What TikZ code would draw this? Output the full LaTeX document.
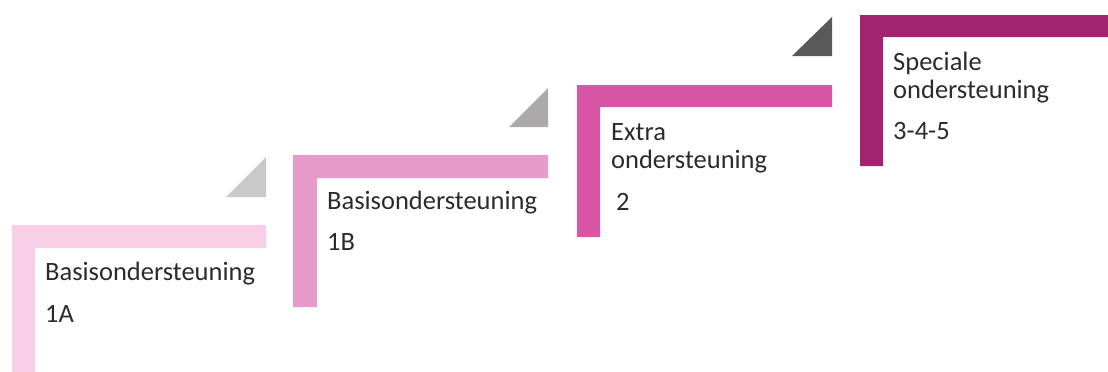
\documentclass[tikz,border=0pt]{standalone}
\usepackage{fontspec}
\setmainfont{Carlito}
\definecolor{stepA}{HTML}{F9CFE7}
\definecolor{stepB}{HTML}{E69BCB}
\definecolor{stepC}{HTML}{D955A5}
\definecolor{stepD}{HTML}{A2246F}
\definecolor{triA}{HTML}{C9C9C9}
\definecolor{triB}{HTML}{ABA9AA}
\definecolor{triC}{HTML}{595959}
\definecolor{txt}{HTML}{2B2B2B}
\tikzset{
  lbl/.style={anchor=base west, inner sep=0pt, text=txt, font=\fontsize{26.5}{30}\selectfont},
}
\begin{document}
\begin{tikzpicture}[x=1pt,y=-1pt]
\useasboundingbox (0,0) rectangle (1108,372);
% step 1A
\fill[stepA] (12,225) -- (266,225) -- (266,248) -- (35,248) -- (35,372) -- (12,372) -- cycle;
\fill[triA] (266,157) -- (266,197) -- (226,197) -- cycle;
% step 1B
\fill[stepB] (293,155) -- (548,155) -- (548,178) -- (317,178) -- (317,307) -- (293,307) -- cycle;
\fill[triB] (548,88) -- (548,127) -- (509,127) -- cycle;
% step 2
\fill[stepC] (577,85) -- (832,85) -- (832,107) -- (600,107) -- (600,237) -- (577,237) -- cycle;
\fill[triC] (832,17) -- (832,56) -- (792,56) -- cycle;
% step 3-4-5
\fill[stepD] (860,15) -- (1108,15) -- (1108,37) -- (883,37) -- (883,166) -- (860,166) -- cycle;
% texts
\node[lbl] (a1) at (45,280) {Basisondersteuning};
\node[lbl] (a2) at (45,322) {1A};
\node[lbl] (b1) at (327,209) {Basisondersteuning};
\node[lbl] (b2) at (327,250) {1B};
\node[lbl] (c1) at (611,140) {Extra};
\node[lbl] (c2) at (611,168) {ondersteuning};
\node[lbl] (c3) at (616,210) {2};
\node[lbl] (d1) at (893,70) {Speciale};
\node[lbl] (d2) at (893,98) {ondersteuning};
\node[lbl] (d3) at (893,139) {3-4-5};
\end{tikzpicture}
\end{document}
